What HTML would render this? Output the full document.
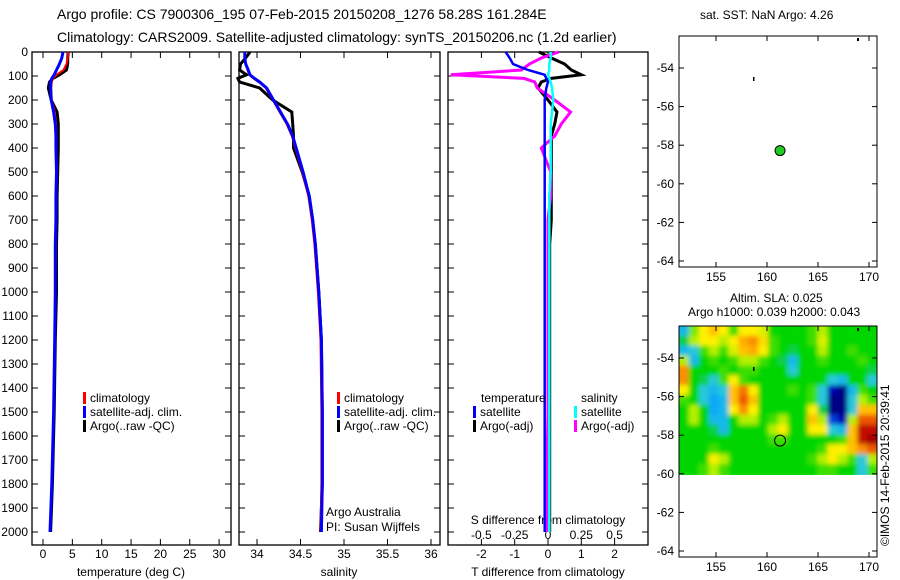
<!DOCTYPE html>
<html><head><meta charset="utf-8"><style>
body{margin:0;background:#fff;}
svg{display:block;font-family:"Liberation Sans",sans-serif;}
text{fill:#000;}
</style></head><body>
<svg id="c" width="900" height="580" viewBox="0 0 900 580">
<defs>
<clipPath id="hc"><rect x="679" y="326" width="198" height="149"/></clipPath>
<filter id="bl" x="-5%" y="-5%" width="110%" height="110%"><feGaussianBlur stdDeviation="2.5"/></filter>
</defs>
<text x="57" y="19" font-size="14">Argo profile: CS 7900306_195 07-Feb-2015 20150208_1276 58.28S 161.284E</text>
<text x="57" y="42" font-size="14">Climatology: CARS2009. Satellite-adjusted climatology: synTS_20150206.nc (1.2d earlier)</text>
<text x="700" y="19" font-size="12">sat. SST: NaN Argo: 4.26</text>
<text x="730" y="302" font-size="12">Altim. SLA: 0.025</text>
<text x="688" y="316" font-size="12">Argo h1000: 0.039 h2000: 0.043</text>
<text transform="translate(889,546) rotate(-90)" font-size="12">©IMOS 14-Feb-2015 20:39:41</text>
<g clip-path="url(#hc)"><g id="heat" filter="url(#bl)"></g></g>
<g id="g"></g>
</svg>
<script>
const depths=[0,25,50,75,95,110,125,150,200,250,300,350,400,500,600,700,800,1000,1200,1500,1800,2000];
const tClim=[4.3,4.2,4.0,3.5,2.3,1.7,1.5,1.4,1.5,2.0,2.2,2.3,2.3,2.3,2.3,2.2,2.2,2.1,2.0,1.8,1.5,1.2];
const tSat=[3.4,3.2,2.8,2.3,1.9,1.5,1.3,1.3,1.4,1.8,2.1,2.2,2.2,2.3,2.2,2.2,2.1,2.1,2.0,1.8,1.5,1.2];
const tArgo=[4.3,4.2,4.2,4.0,2.8,1.7,1.1,0.9,1.4,2.4,2.6,2.6,2.6,2.5,2.4,2.4,2.3,2.3,2.1,1.9,1.6,1.3];
const sClim=[33.86,33.86,33.87,33.89,33.91,33.96,34.02,34.1,34.18,34.26,34.34,34.4,34.44,34.52,34.59,34.63,34.66,34.7,34.73,34.74,34.74,34.73];
const sSat=[33.86,33.86,33.87,33.9,33.92,33.97,34.03,34.11,34.19,34.27,34.35,34.41,34.45,34.53,34.6,34.64,34.67,34.71,34.74,34.75,34.75,34.74];
const sArgo=[33.92,33.87,33.81,33.8,33.88,33.78,33.8,34.03,34.18,34.4,34.41,34.42,34.42,34.52,34.6,34.64,34.67,34.71,34.74,34.75,34.75,34.73];
const dTSat=[-1.27,-1.15,-1.05,-0.6,-0.1,-0.05,0,-0.05,-0.1,-0.1,-0.1,-0.1,-0.1,-0.1,-0.1,-0.1,-0.1,-0.1,-0.1,-0.1,-0.1,-0.1];
const dTArgo=[-0.27,0.1,0.5,0.7,1.0,0.1,-0.2,-0.3,0,0.27,0.2,0.1,0.1,0.1,0.1,0.1,0.05,0.05,0.05,0.05,0.05,0.05];
const dSArgo=[0.08,-0.05,-0.14,-0.2,-0.73,-0.18,-0.1,-0.08,0.05,0.17,0.1,0.05,-0.05,0.02,0.02,0,0,0,0,0,-0.01,-0.01];
const dSSat=[0.02,0.02,0.01,0.01,0.0,0.01,0.02,0.03,0.04,0.03,0.02,0.02,0.02,0.02,0.01,0.01,0.01,0.01,0.01,0.01,0.01,0.01];
const depthTicks=[0,100,200,300,400,500,600,700,800,900,1000,1100,1200,1300,1400,1500,1600,1700,1800,1900,2000];
const tempTicks=[0,5,10,15,20,25,30];
const salTicks=[34,34.5,35,35.5,36];
const dTTicks=[-2,-1,0,1,2];
const dSTicks=[-0.5,-0.25,0,0.25,0.5];
const argoLon=[161.28], argoLat=[-58.28];
const latTicks=[-54,-56,-58,-60,-62,-64];
const lonTicks=[155,160,165,170];
const sla=[
[-0.3,0.15,0.3,0.4,0.3,0.1,0.3,0.3,0.25,0.05,0,0.05,0,0.1,0.2,0.05,0,0.05,0,0],
[-0.1,0.2,0.3,0.3,0.2,0.3,0.45,0.5,0.35,0.1,0,0,0,0.1,0.25,0.05,0,0,0.05,0],
[-0.3,-0.2,0.1,0.2,0.1,0.25,0.4,0.45,0.3,0.1,0,-0.1,0,0.05,0.2,0,0,0.1,0,0],
[0.2,-0.3,0,0.1,0,0.1,0.2,0.2,0.1,0,-0.1,-0.3,0,0,0.1,0,0,0,0.1,0],
[0.5,0,0,0,0.1,0,0.1,0.1,0,0,0,-0.2,0,0,0.05,0,0,0,0,-0.1],
[0.5,0,-0.1,-0.2,0.1,0.3,0.1,0,0,0,0,0,0,0,0,-0.2,-0.3,0,0,-0.2],
[0.3,0,-0.2,-0.3,-0.2,0.4,0.55,0.3,0,0,0,0.1,0,0.1,-0.2,-0.8,-1,-0.3,0.1,0],
[0.1,0,-0.2,-0.4,-0.3,0.4,0.6,0.4,0,0,0,0,0,0.1,-0.2,-1,-1,-0.2,0.2,0.1],
[0,0.2,0,-0.4,-0.3,0.3,0.5,0.3,0,0,0.05,0,0,0.3,-0.1,-1,-1,-0.2,0.4,0.4],
[0,0.2,0,-0.3,-0.3,0,0.2,0.2,0,0.1,0.2,0,0,0.4,0.2,-0.6,-0.8,0.2,0.6,0.6],
[0,0,0,-0.1,-0.3,0,0,0,0,0.2,0.3,0,0,0.3,0.3,-0.2,-0.3,0.4,0.8,0.8],
[0,0,0,0,0,0,0,0,0,0.1,0.1,0,0,0,0,0,0.1,0.4,0.8,0.9],
[0,0,0,0.1,0,0,0,0,0,0,0,0,0,0,0.1,0.3,0.3,0.4,0.5,0.6],
[0,0,0,0.3,0.2,0,0,0,0,0,0,0,0,0.1,0.2,0.3,0.2,0.1,-0.2,0.2],
[0,0,0.1,0.2,0.1,0,0,0,0,0,0,0,0,0,0.1,0.1,0,0,-0.2,0.1]];

const NS='http://www.w3.org/2000/svg', G=document.getElementById('g'), H=document.getElementById('heat');
function el(tag,attrs,parent){const e=document.createElementNS(NS,tag);for(const k in attrs)e.setAttribute(k,attrs[k]);(parent||G).appendChild(e);return e;}
function txt(x,y,s,size,anchor){const t=el('text',{x:x,y:y,'font-size':size||12,'text-anchor':anchor||'start'});t.textContent=s;


return t;}
const yD=d=>52+d*0.24;
const xT=v=>43+v*5.87;
const xS=v=>257+(v-34)*87;
const xDT=v=>548+v*33.3;
const xDS=v=>548+v*133.2;
const PB=545;

function frame(x0,x1,name){const r=el('rect',{x:x0,y:52,width:x1-x0,height:PB-52,fill:'none',stroke:'#000','stroke-width':1.3});

}
function line(vals,xf,color,name,w){const p=vals.map((v,i)=>xf(v).toFixed(1)+','+yD(depths[i]).toFixed(1)).join(' ');
const l=el('polyline',{points:p,fill:'none',stroke:color,'stroke-width':w||3});

}
function xticks(ticks,xf,top,bottom){ticks.forEach(t=>{const x=xf(t);
if(top)el('line',{x1:x,y1:52,x2:x,y2:58,stroke:'#000'});
if(bottom)el('line',{x1:x,y1:PB,x2:x,y2:PB-6,stroke:'#000'});});}

frame(32,231,'temperature-panel');frame(239,440,'salinity-panel');frame(448,648,'difference-panel');
depthTicks.forEach(d=>{const y=yD(d);el('line',{x1:32,y1:y,x2:38,y2:y,stroke:'#000'});el('line',{x1:231,y1:y,x2:225,y2:y,stroke:'#000'});
el('line',{x1:239,y1:y,x2:245,y2:y,stroke:'#000'});el('line',{x1:440,y1:y,x2:434,y2:y,stroke:'#000'});
el('line',{x1:448,y1:y,x2:454,y2:y,stroke:'#000'});el('line',{x1:648,y1:y,x2:642,y2:y,stroke:'#000'});
txt(28,y+4,String(d),12,'end');});
xticks(tempTicks,xT,true,true);tempTicks.forEach(t=>txt(xT(t),558,String(t),12,'middle'));
xticks(salTicks,xS,true,true);salTicks.forEach(t=>txt(xS(t),558,String(t),12,'middle'));
xticks(dTTicks,xDT,true,true);dTTicks.forEach(t=>txt(xDT(t),558,String(t),12,'middle'));
dSTicks.forEach(t=>txt(xDS(t),539,String(t),12,'middle'));
txt(131,576,'temperature (deg C)',12,'middle');txt(339,576,'salinity',12,'middle');
txt(548,576,'T difference from climatology',12,'middle');txt(548,524,'S difference from climatology',12,'middle');

line(tArgo,xT,'#000','temp-argo-line');line(tClim,xT,'#f00','temp-clim-line',2);line(tSat,xT,'#00f','temp-satellite-line');
line(sArgo,xS,'#000','sal-argo-line');line(sClim,xS,'#f00','sal-clim-line',2);line(sSat,xS,'#00f','sal-satellite-line');
line(dTArgo,xDT,'#000','dT-argo-line');line(dSArgo,xDS,'#f0f','dS-argo-line');line(dTSat,xDT,'#00f','dT-satellite-line',2.5);line(dSSat,xDS,'#0ff','dS-satellite-line',2.5);

function leg(x,y,color,label,name){const r=el('rect',{x:x,y:y-10,width:3,height:12,fill:color});


txt(x+7,y,label,12);}
[[83,'#f00','climatology'],[83,'#00f','satellite-adj. clim.'],[83,'#000','Argo(..raw -QC)']].forEach((a,i)=>{leg(a[0],402+i*14,a[1],a[2],'temp-legend-entry');leg(337,402+i*14,a[1],a[2],'sal-legend-entry');});
txt(481,402,'temperature',12);txt(581,402,'salinity',12);
leg(473,416,'#00f','satellite','legend-dT-satellite');leg(473,430,'#000','Argo(-adj)','legend-dT-argo');
leg(574,416,'#0ff','satellite','legend-dS-satellite');leg(574,430,'#f0f','Argo(-adj)','legend-dS-argo');
txt(326,516,'Argo Australia',12);txt(326,531,'PI: Susan Wijffels',12);

function mapAxes(y0,y1,latAt,name){const r=el('rect',{x:679,y:y0,width:198,height:y1-y0,fill:'none',stroke:'#000'});


latTicks.forEach(l=>{const y=latAt(l);el('line',{x1:679,y1:y,x2:684,y2:y,stroke:'#000'});el('line',{x1:877,y1:y,x2:872,y2:y,stroke:'#000'});txt(674,y+4,String(l),12,'end');});
lonTicks.forEach(l=>{const x=716+(l-155)*10.2;el('line',{x1:x,y1:y0,x2:x,y2:y0+5,stroke:'#000'});el('line',{x1:x,y1:y1,x2:x,y2:y1-5,stroke:'#000'});txt(x,y1+14,String(l),12,'middle');});}
const lonX=l=>716+(l-155)*10.2;
const lat1=l=>68+(-54-l)*19.3;
const lat2=l=>358+(-54-l)*19.3;
const stops=[[-1,[0,0,130]],[-0.7,[0,0,200]],[-0.45,[0,160,255]],[-0.2,[40,200,220]],[-0.05,[0,210,0]],[0.05,[0,215,0]],[0.2,[180,240,0]],[0.3,[255,240,0]],[0.45,[255,170,0]],[0.65,[230,60,0]],[0.85,[180,0,0]],[1,[130,0,0]]];
function cmap(v){v=Math.max(-1,Math.min(1,v));for(let i=1;i<stops.length;i++){if(v<=stops[i][0]){const a=stops[i-1],b=stops[i],t=(v-a[0])/(b[0]-a[0]);
return 'rgb('+a[1].map((c,k)=>Math.round(c+(b[1][k]-c)*t)).join(',')+')';}}return 'rgb(130,0,0)';}
const hx0=679,hy0=326,cw=198/20,ch=(lat2(-60)-326)/15;
sla.forEach((row,i)=>row.forEach((v,j)=>{const c=el('rect',{x:hx0+j*cw-4,y:hy0+i*ch-4,width:cw+8,height:ch+8,fill:cmap(v)},H);
if(j>0)c.setAttribute('x',hx0+j*cw);if(i>0)c.setAttribute('y',hy0+i*ch);
c.setAttribute('width',cw+(j==0||j==19?4.5:0.5));c.setAttribute('height',ch+(i==0||i==14?4.5:0.5));

}));
mapAxes(36,267,lat1,'sst-map');mapAxes(326,557,lat2,'sla-map');
el('circle',{cx:lonX(argoLon[0]),cy:lat1(argoLat[0]),r:5,fill:'#2c2',stroke:'#000'});
el('circle',{cx:lonX(argoLon[0]),cy:lat2(argoLat[0]),r:5.5,fill:'none',stroke:'#000'});
el('rect',{x:857,y:38,width:2,height:3,fill:'#000'});el('rect',{x:753,y:77,width:1.5,height:4,fill:'#000'});
el('rect',{x:857,y:328,width:2,height:3,fill:'#000'});el('rect',{x:753,y:367,width:1.5,height:4,fill:'#000'});
</script>
</body></html>
